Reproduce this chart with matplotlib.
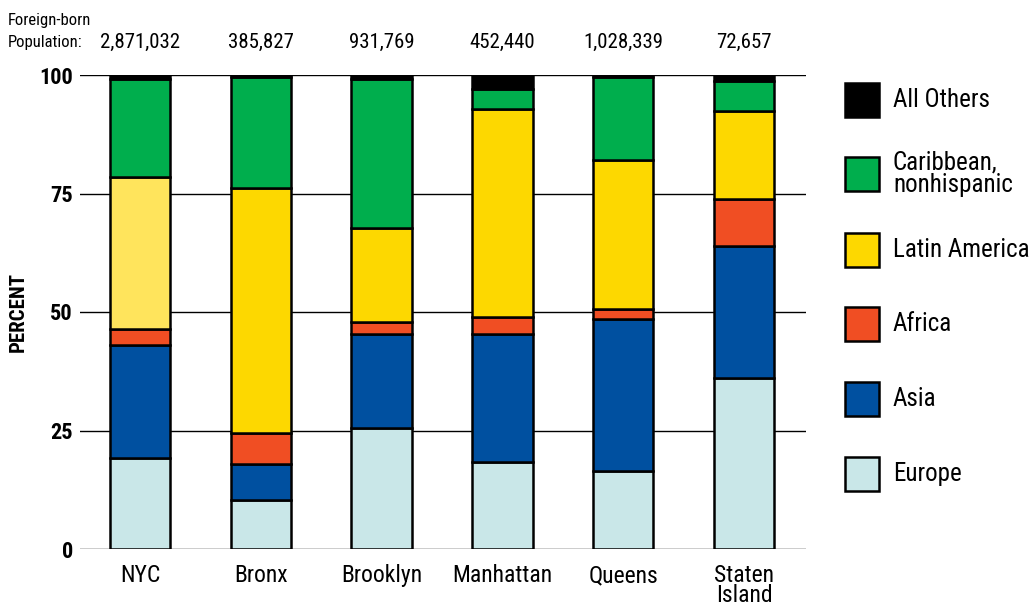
import matplotlib
matplotlib.use("Agg")
import matplotlib.pyplot as plt
from matplotlib import font_manager as fm
import numpy as np

boroughs = ["NYC", "Bronx", "Brooklyn", "Manhattan", "Queens", "Staten\nIsland"]
population = ["2,871,032", "385,827", "931,769", "452,440", "1,028,339", "72,657"]

series_names = ["Europe", "Asia", "Africa", "Latin America", "Caribbean,\nnonhispanic", "All Others"]
europe = [19.3, 10.3, 25.5, 18.3, 16.5, 36.0]
asia = [23.7, 7.6, 19.8, 27.0, 32.0, 28.0]
africa = [3.4, 6.5, 2.5, 3.6, 2.1, 9.8]
latin_america = [32.0, 51.8, 19.9, 43.9, 31.5, 18.6]
caribbean = [20.8, 23.3, 31.5, 4.2, 17.4, 6.4]
all_others = [0.8, 0.5, 0.8, 3.0, 0.5, 1.2]

colors = ["#C9E7E8", "#0050A0", "#F04E23", "#FDD800", "#00AE4D", "#000000"]
nyc_latin_color = "#FFE45C"

available = {f.name for f in fm.fontManager.ttflist}
family = "DejaVu Sans"
for cand in ["Liberation Sans Narrow", "DejaVu Sans Condensed", "Roboto Condensed", "Open Sans Condensed", "Roboto"]:
    if cand in available:
        family = cand
        break
plt.rcParams["font.family"] = [family, "DejaVu Sans"]

fig = plt.figure(figsize=(10.32, 6.08), dpi=100)
ax = fig.add_axes([80 / 1032, 59 / 608, 726 / 1032, 474 / 608])

data = [europe, asia, africa, latin_america, caribbean, all_others]
x = np.arange(len(boroughs))
bottom = np.zeros(len(boroughs))
for i, (vals, c) in enumerate(zip(data, colors)):
    cols = [c] * len(boroughs)
    if i == 3:
        cols[0] = nyc_latin_color
    ax.bar(x, vals, bottom=bottom, width=0.5, color=cols, edgecolor="black",
           linewidth=1.8, zorder=3)
    bottom += np.array(vals)

ax.set_xlim(-0.497, 5.513)
ax.set_ylim(0, 100)
ax.set_yticks([0, 25, 50, 75, 100])
ax.set_yticklabels(["0", "25", "50", "75", "100"], fontsize=16, fontweight="bold")
ax.grid(axis="y", color="black", linewidth=1.0, zorder=0)
ax.tick_params(axis="y", length=0, pad=5)
ax.tick_params(axis="x", length=0, pad=11)
ax.set_xticks(x)
ax.set_xticklabels(boroughs, fontsize=17, linespacing=0.82, va="top")
for s in ax.spines.values():
    s.set_visible(False)
ax.set_ylabel("PERCENT", fontsize=15, fontweight="bold", labelpad=8)

# population labels
for xi, p in zip(x, population):
    ax.text(xi, 1.0 + (75 - 52) / 474, p, transform=ax.get_xaxis_transform(), ha="center",
            va="bottom", fontsize=15, clip_on=False)
fig.text(8 / 1032, 1 - 21 / 608, "Foreign-born", fontsize=12, ha="left", va="center")
fig.text(8 / 1032, 1 - 43 / 608, "Population:", fontsize=12, ha="left", va="center")

# legend (manual)
ys = [100, 174, 250, 324, 399, 474]
for name, c, yc in zip(series_names[::-1], colors[::-1], ys):
    fig.patches.append(plt.Rectangle((845 / 1032, 1 - (yc + 17) / 608), 34 / 1032, 34 / 608,
                                     transform=fig.transFigure, facecolor=c,
                                     edgecolor="black", linewidth=1.8))
    fig.text(893 / 1032, 1 - yc / 608, name, fontsize=18, ha="left", va="center",
             linespacing=0.9)

fig.savefig("out.png", dpi=100)
